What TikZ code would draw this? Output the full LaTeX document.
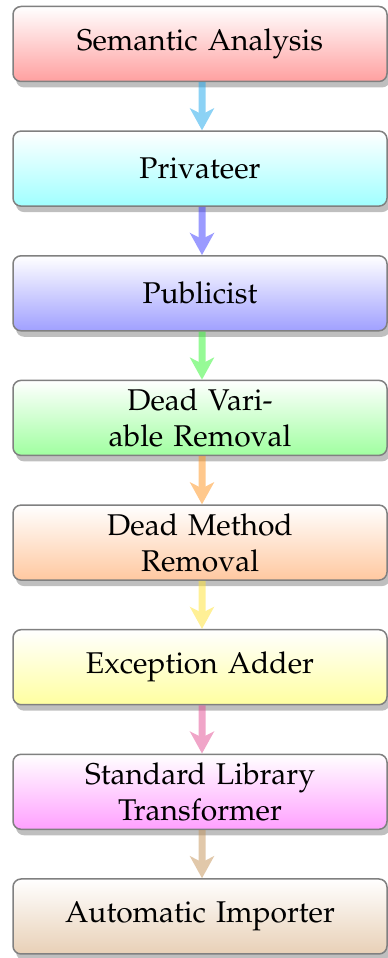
\documentclass[tikz,border=0pt]{standalone}
\usepackage[T1]{fontenc}
\usepackage{mathpazo}
\usetikzlibrary{arrows.meta,shadows}
\definecolor{cRed}{RGB}{255,160,160}
\definecolor{cCyan}{RGB}{160,255,255}
\definecolor{cBlue}{RGB}{160,160,255}
\definecolor{cGreen}{RGB}{160,255,160}
\definecolor{cOrange}{RGB}{255,200,160}
\definecolor{cYellow}{RGB}{255,255,160}
\definecolor{cMagenta}{RGB}{255,160,255}
\definecolor{cBrown}{RGB}{232,208,182}
\definecolor{aSky}{RGB}{25,165,235}
\definecolor{aBlue}{RGB}{55,55,255}
\definecolor{aGreen}{RGB}{45,245,45}
\definecolor{aOrange}{RGB}{255,145,25}
\definecolor{aYellow}{RGB}{255,225,45}
\definecolor{aPink}{RGB}{225,75,145}
\definecolor{aTan}{RGB}{195,145,85}
\tikzset{
  stagebox/.style={draw=black!50, line width=1.5pt, rounded corners=8pt,
    minimum width=374pt, minimum height=75pt, text width=300pt, align=center,
    top color=white, bottom color=#1,
    drop shadow={shadow xshift=3pt, shadow yshift=-6pt},
    font=\fontsize{30}{36}\selectfont, inner sep=0pt},
  flowarrow/.style={draw=#1, line width=7pt,
    -{Stealth[length=22pt,width=24pt,inset=6pt]}},
}
\begin{document}
\begin{tikzpicture}[x=1pt,y=1pt]
\useasboundingbox (0,0) rectangle (388,958);
\node[stagebox=cRed]     (b1) at (200,914)   {Semantic Analysis};
\node[stagebox=cCyan]    (b2) at (200,789.4) {Privateer};
\node[stagebox=cBlue]    (b3) at (200,664.7) {Publicist};
\node[stagebox=cGreen]   (b4) at (200,540.1) {Dead Vari-\\able Removal};
\node[stagebox=cOrange]  (b5) at (200,415.4) {Dead Method\\Removal};
\node[stagebox=cYellow]  (b6) at (200,290.8) {Exception Adder};
\node[stagebox=cMagenta] (b7) at (200,166.2) {Standard Library\\Transformer};
\node[stagebox=cBrown]   (b8) at (200,41.5)  {Automatic Importer};
\begin{scope}[transparency group, opacity=0.5]
\draw[flowarrow=aSky] ([xshift=2pt]b1.south) -- ([xshift=2pt]b2.north);
\end{scope}
\begin{scope}[transparency group, opacity=0.5]
\draw[flowarrow=aBlue] ([xshift=2pt]b2.south) -- ([xshift=2pt]b3.north);
\end{scope}
\begin{scope}[transparency group, opacity=0.5]
\draw[flowarrow=aGreen] ([xshift=2pt]b3.south) -- ([xshift=2pt]b4.north);
\end{scope}
\begin{scope}[transparency group, opacity=0.5]
\draw[flowarrow=aOrange] ([xshift=2pt]b4.south) -- ([xshift=2pt]b5.north);
\end{scope}
\begin{scope}[transparency group, opacity=0.5]
\draw[flowarrow=aYellow] ([xshift=2pt]b5.south) -- ([xshift=2pt]b6.north);
\end{scope}
\begin{scope}[transparency group, opacity=0.5]
\draw[flowarrow=aPink] ([xshift=2pt]b6.south) -- ([xshift=2pt]b7.north);
\end{scope}
\begin{scope}[transparency group, opacity=0.5]
\draw[flowarrow=aTan] ([xshift=2pt]b7.south) -- ([xshift=2pt]b8.north);
\end{scope}
\end{tikzpicture}
\end{document}
